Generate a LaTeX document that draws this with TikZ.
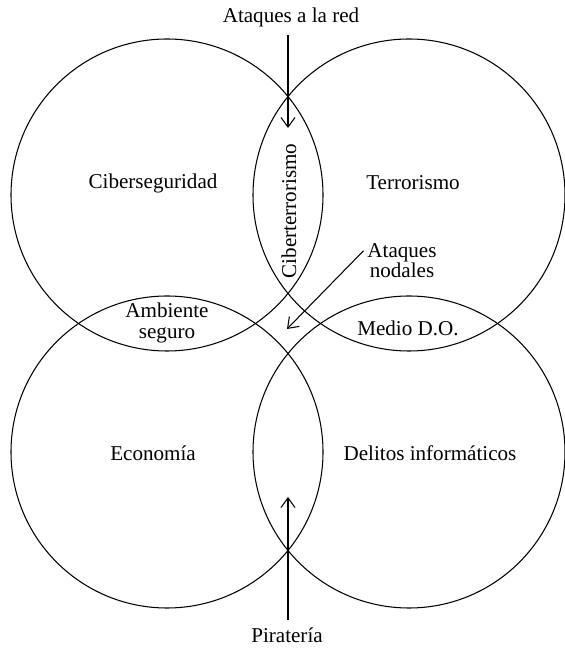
\documentclass[tikz,border=0pt]{standalone}
\usepackage{fontspec}
\setmainfont{Liberation Serif}
\usetikzlibrary{arrows.meta}

\begin{document}
\begin{tikzpicture}[
    ring/.style={circle, draw, line width=0.6pt, minimum size=6.24cm, inner sep=0pt},
    lbl/.style={font=\fontsize{12}{13.5}\selectfont, align=center},
    arr/.style={line width=0.6pt, -{Straight Barb[length=5.5pt,width=8pt]}}
]
    \useasboundingbox (0,0) rectangle (11.3,12.96);

    % Draw the four sets
    \node[ring] (cs) at (3.34,9.06) {};
    \node[ring] (te) at (8.18,9.06) {};
    \node[ring] (ec) at (3.34,3.92) {};
    \node[ring] (di) at (8.18,3.92) {};

    % Set labels
    \node[lbl] (lcs) at (3.06,9.30) {Ciberseguridad};
    \node[lbl] (lte) at (8.26,9.30) {Terrorismo};
    \node[lbl] (lec) at (3.06,3.90) {Economía};
    \node[lbl] (ldi) at (8.60,3.90) {Delitos informáticos};

    % Intersections
    \node[lbl, rotate=90] (ct) at (5.78,8.74) {Ciberterrorismo};
    \node[lbl, inner sep=1pt] (as) at (3.34,6.50) {Ambiente\\[-2pt]seguro};
    \node[lbl] (md) at (8.16,6.40) {Medio D.O.};

    % Outside labels
    \node[lbl, inner sep=4.5pt] (red) at (5.82,12.62) {Ataques a la red};
    \node[lbl, inner sep=2pt] (nod) at (8.04,7.74) {Ataques\\[-2pt]nodales};
    \node[lbl, inner sep=4.5pt] (pir) at (5.74,0.25) {Piratería};

    % Arrow tips
    \coordinate (redtip) at (5.76,10.40);
    \coordinate (nodtip) at (5.74,6.38);
    \coordinate (pirtip) at (5.76,3.02);

    % Arrows
    \draw[arr] (red.south -| redtip) -- (redtip);
    \draw[arr] (nod.165) -- (nodtip);
    \draw[arr] (pir.north -| pirtip) -- (pirtip);

\end{tikzpicture}
\end{document}
